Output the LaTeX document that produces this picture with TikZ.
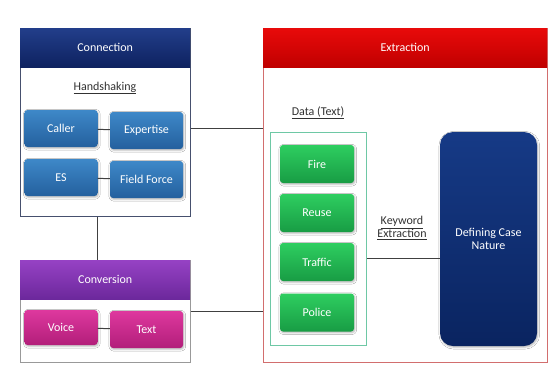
\documentclass[tikz,border=0pt]{standalone}
\usepackage{fontspec}
\setmainfont{Carlito}
\usepackage{xcolor}
\usepackage{tikz}
\usetikzlibrary{positioning,calc,shadows.blur}
\definecolor{navytop}{RGB}{34,62,138}
\definecolor{navybot}{RGB}{14,34,96}
\definecolor{bluetop}{RGB}{62,136,200}
\definecolor{bluebot}{RGB}{36,96,158}
\definecolor{redtop}{RGB}{232,10,10}
\definecolor{redbot}{RGB}{192,0,0}
\definecolor{redline}{RGB}{210,110,110}
\definecolor{purptop}{RGB}{150,66,196}
\definecolor{purpbot}{RGB}{108,40,156}
\definecolor{magtop}{RGB}{222,56,158}
\definecolor{magbot}{RGB}{178,30,122}
\definecolor{greentop}{RGB}{46,206,96}
\definecolor{greenbot}{RGB}{24,156,68}
\definecolor{greenline}{RGB}{110,200,165}
\definecolor{deftop}{RGB}{22,58,134}
\definecolor{defbot}{RGB}{10,36,96}
\definecolor{panelline}{RGB}{70,80,110}
\definecolor{labeltext}{RGB}{50,50,50}

\begin{document}
\begin{tikzpicture}[
  x=1pt, y=-1pt,
  font=\fontsize{12}{13.5}\selectfont,
  panel/.style={draw=#1, line width=0.9pt, fill=white, anchor=north west, inner sep=0pt},
  header/.style={top color=#1top, bottom color=#1bot, draw=none, anchor=north west,
                 text=white, inner sep=0pt, minimum height=39pt},
  item/.style={top color=#1top, bottom color=#1bot, draw=none, rounded corners=3pt,
               text=white, minimum width=73pt, minimum height=37pt, inner sep=1pt,
               blur shadow={shadow blur steps=4, shadow xshift=0.8pt, shadow yshift=-1.2pt, shadow opacity=30}},
  caption/.style={text=labeltext, align=center},
  link/.style={draw=black!75, line width=1pt}]
  \useasboundingbox (0,0) rectangle (549,368);

  % Connection
  \node[panel=panelline, minimum width=170pt, minimum height=188pt] (connbox) at (20,28) {};
  \node[header=navy, minimum width=170pt] (conn) at (20,28) {Connection};
  \node[caption] (hand) at (105,88) {\underline{Handshaking}};
  \node[item=blue] (caller) at (61,128.5) {Caller};
  \node[item=blue] (expert) at (146.5,130.5) {Expertise};
  \node[item=blue] (es) at (61,177.5) {ES};
  \node[item=blue] (field) at (146.5,179.5) {Field Force};
  \draw[link] (caller) -- (expert);
  \draw[link] (es) -- (field);

  % Conversion
  \node[panel=black!40, minimum width=170pt, minimum height=102pt] (convbox) at (20,260) {};
  \node[header=purp, minimum width=170pt] (conv) at (20,260) {Conversion};
  \node[item=mag, minimum height=35pt] (voice) at (61,327.5) {Voice};
  \node[item=mag] (text) at (146.5,329.5) {Text};
  \draw[link] (voice) -- (text);
  \draw[link] (caller.east |- connbox.south) -- (caller.east |- convbox.north);

  % Extraction
  \node[panel=redline, minimum width=284pt, minimum height=334pt] (extbox) at (263,28) {};
  \node[header=red, minimum width=284pt] (ext) at (263,28) {Extraction};
  \node[caption] (data) at (318,113) {\underline{Data (Text)}};
  \node[draw=greenline, line width=1pt, anchor=north west, minimum width=96pt,
        minimum height=213pt, inner sep=0pt] (databox) at (270,132) {};
  \node[item=green, minimum width=74pt, minimum height=38pt] (fire) at (317,164) {Fire};
  \node[item=green, minimum width=74pt, minimum height=38pt] (reuse) at (317,213) {Reuse};
  \node[item=green, minimum width=74pt, minimum height=38pt] (traffic) at (317,262) {Traffic};
  \node[item=green, minimum width=74pt, minimum height=38pt] (police) at (317,312.5) {Police};
  \node[top color=deftop, bottom color=defbot, rounded corners=13pt, text=white,
        minimum width=97pt, minimum height=214pt, align=center,
        blur shadow={shadow blur steps=4, shadow xshift=0.8pt, shadow yshift=-1.2pt, shadow opacity=30}]
        (define) at (488.5,239) {Defining Case\\Nature};
  \node[caption] (keyword) at (402,228) {\underline{Keyword}\\\underline{Extraction}};
  \coordinate (kwline) at (402,258);
  \draw[link] (databox.east |- kwline) -- (define.west |- kwline);

  % panels joined
  \draw[link] (connbox.east |- caller) -- (extbox.west |- caller);
  \draw[link] (convbox.east) -- (extbox.west |- convbox.east);
\end{tikzpicture}
\end{document}
